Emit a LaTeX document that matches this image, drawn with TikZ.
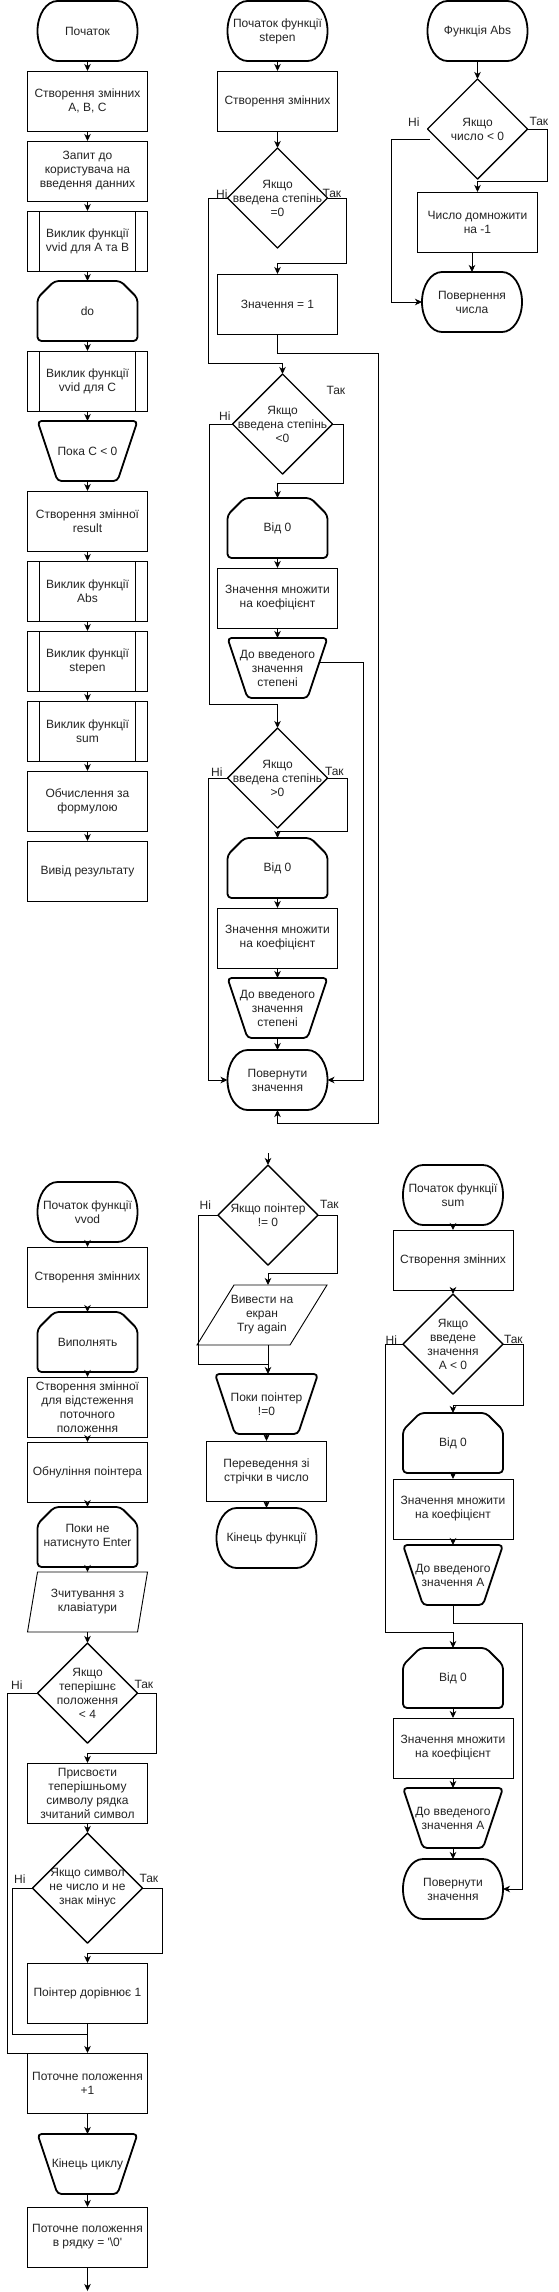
\documentclass[tikz,border=0pt]{standalone}
\usepackage{fontspec}
\setmainfont{Liberation Sans}
\usepackage{tikz}
\usetikzlibrary{positioning,arrows.meta,calc}
\definecolor{tekst}{RGB}{35,35,35}

\newcommand{\ramkaterm}[1]{%
  \draw[tovsta] ([xshift=20pt]#1.north west) -- ([xshift=-20pt]#1.north east)
    arc[start angle=90, end angle=-90, x radius=20pt, y radius=30pt]
    -- ([xshift=20pt]#1.south west)
    arc[start angle=270, end angle=90, x radius=20pt, y radius=30pt] -- cycle;}
\newcommand{\ramkapetl}[1]{%
  \draw[tovsta, rounded corners=4pt] ([yshift=-17pt]#1.north west) -- ([xshift=17pt]#1.north west)
    -- ([xshift=-17pt]#1.north east) -- ([yshift=-17pt]#1.north east)
    -- (#1.south east) -- (#1.south west) -- cycle;}
\newcommand{\ramkakin}[1]{%
  \draw[tovsta, rounded corners=4pt] (#1.north west) -- (#1.north east)
    -- ([xshift=-20pt]#1.south east) -- ([xshift=20pt]#1.south west) -- cycle;}
\newcommand{\ramkaromb}[1]{%
  \draw[romb] (#1.north) -- (#1.east) -- (#1.south) -- (#1.west) -- cycle;}
\newcommand{\ramkaparal}[2]{%
  \draw[tonka] ([xshift=#2]#1.north west) -- (#1.north east)
    -- ([xshift=-#2]#1.south east) -- (#1.south west) -- cycle;}

\begin{document}
\begin{tikzpicture}[x=1pt, y=1pt,
    font=\fontsize{12}{14}\selectfont, text=tekst,
    blok/.style={draw, line width=0.9pt, minimum width=120pt, minimum height=60pt,
                 inner sep=1pt, outer sep=0pt, align=center},
    pidpr/.style={blok, path picture={
        \draw[line width=0.9pt] ([xshift=12pt]path picture bounding box.north west) -- ([xshift=12pt]path picture bounding box.south west)
          ([xshift=-12pt]path picture bounding box.north east) -- ([xshift=-12pt]path picture bounding box.south east);}},
    termin/.style={minimum width=100pt, minimum height=60pt, inner sep=1pt, outer sep=0pt, align=center},
    petl/.style={termin},
    kinec/.style={termin},
    vvod/.style={termin, minimum width=120pt},
    umova/.style={minimum width=100pt, minimum height=100pt, inner sep=1pt, outer sep=0pt, align=center},
    mitka/.style={inner sep=0pt, outer sep=0pt},
    tovsta/.style={line width=1.8pt, line join=round},
    romb/.style={line width=1.4pt, line join=round},
    tonka/.style={line width=0.9pt},
    liniia/.style={line width=0.9pt},
    strilka/.style={liniia, -{Stealth[length=7pt, width=6.5pt, inset=2pt]}}]
  \useasboundingbox (0,0) rectangle (558,-2292);

  \node[termin] (pochatok) at (87.5,-31) {Початок};
  \node[blok, below=10pt of pochatok] (zminni) {Створення змінних\\A, B, C};
  \node[blok, below=10pt of zminni] (zapyt) {Запит до\\користувача на\\введення данних};
  \node[pidpr, below=10pt of zapyt] (vvidab) {Виклик функції\\vvid для A та B};
  \node[petl, below=10pt of vvidab] (docykl) {do};
  \node[pidpr, below=10pt of docykl] (vvidc) {Виклик функції\\vvid для C};
  \node[kinec, below=10pt of vvidc] (poka) {Пока C < 0};
  \node[blok, below=10pt of poka] (result) {Створення змінної\\result};
  \node[pidpr, below=10pt of result] (vabs) {Виклик функції\\Abs};
  \node[pidpr, below=10pt of vabs] (vstepen) {Виклик функції\\stepen};
  \node[pidpr, below=10pt of vstepen] (vsum) {Виклик функції\\sum};
  \node[blok, below=10pt of vsum] (obch) {Обчислення за\\формулою};
  \node[blok, below=10pt of obch] (vyvid) {Вивід результату};

  \node[termin] (spoch) at (277.5,-31) {Початок функції\\stepen};
  \node[blok, below=10pt of spoch] (szminni) {Створення змінних};
  \node[umova, below=17pt of szminni] (sum0) {Якщо\\введена степінь\\=0};
  \node[blok, below=26pt of sum0] (sodyn) {Значення = 1};
  \node[umova, below=40pt of sodyn, xshift=5pt] (smensh) {Якщо\\введена степінь\\<0};
  \node[petl, below=24pt of smensh, xshift=-5pt] (svid1) {Від 0};
  \node[blok, below=10pt of svid1] (smnozh1) {Значення множити\\на коефіцієнт};
  \node[kinec, below=10pt of smnozh1] (sdo1) {До введеного\\значення\\степені};
  \node[umova, below=30pt of sdo1] (sbilsh) {Якщо\\введена степінь\\>0};
  \node[petl, below=10pt of sbilsh] (svid2) {Від 0};
  \node[blok, below=10pt of svid2] (smnozh2) {Значення множити\\на коефіцієнт};
  \node[kinec, below=10pt of smnozh2] (sdo2) {До введеного\\значення\\степені};
  \node[termin, below=12pt of sdo2] (spov) {Повернути\\значення};

  \node[termin] (apoch) at (477.5,-31) {Функція Abs};
  \node[umova, below=18pt of apoch] (aumova) {Якщо\\число < 0};
  \node[blok, below=13pt of aumova] (adomn) {Число домножити\\на -1};
  \node[termin, below=20pt of adomn, xshift=-5.5pt] (apov) {Повернення\\числа};

  \node[termin] (vpoch) at (87.5,-1212) {Початок функції\\vvod};
  \node[blok, below=5pt of vpoch] (vzminni) {Створення змінних};
  \node[petl, below=5pt of vzminni] (vvyk) {Виполнять};
  \node[blok, below=5pt of vvyk] (vzminna) {Створення змінної\\для відстеження\\поточного\\положення};
  \node[blok, below=5pt of vzminna] (vobnul) {Обнуління поінтера};
  \node[petl, below=5pt of vobnul] (vpoky) {Поки не\\натиснуто Enter};
  \node[vvod, below=5pt of vpoky] (vzchyt) {Зчитування з\\клавіатури};
  \node[umova, below=11pt of vzchyt] (vteper) {Якщо\\теперішнє\\положення\\< 4};
  \node[blok, below=20pt of vteper] (vprysv) {Присвоєти\\теперішньому\\символу рядка\\зчитаний символ};
  \node[umova, minimum width=110pt, minimum height=110pt, below=10pt of vprysv] (vsymv) {Якщо символ\\не число и не\\знак мінус};
  \node[blok, below=20pt of vsymv] (vpointer) {Поінтер дорівнює 1};
  \node[blok, below=30pt of vpointer] (vpotoch) {Поточне положення\\+1};
  \node[kinec, below=21pt of vpotoch] (vkinec) {Кінець циклу};
  \node[blok, below=13pt of vkinec] (vryadok) {Поточне положення\\в рядку = \textquotesingle\textbackslash0\textquotesingle};
  \coordinate[below=24pt of vryadok] (vdali);

  \coordinate (pvhid) at (268,-1153);
  \node[umova, below=12pt of pvhid] (pumova) {Якщо поінтер\\!= 0};
  \node[vvod, minimum width=130pt, below=20pt of pumova, xshift=-6pt] (pvyvesty) {Вивести на\\екран\\Try again};
  \node[kinec, minimum width=103pt, below=29pt of pvyvesty, xshift=4.5pt] (ppoky) {Поки поінтер\\!=0};
  \node[blok, below=7pt of ppoky] (pperev) {Переведення зі\\стрічки в число};
  \node[termin, below=7pt of pperev] (pkin) {Кінець функції};

  \node[termin] (sumpoch) at (453,-1195) {Початок функції\\sum};
  \node[blok, below=5pt of sumpoch] (sumzminni) {Створення змінних};
  \node[umova, below=4pt of sumzminni] (sumumova) {Якщо\\введене\\значення\\A < 0};
  \node[petl, below=19pt of sumumova] (sumvid1) {Від 0};
  \node[blok, below=6pt of sumvid1] (summnozh1) {Значення множити\\на коефіцієнт};
  \node[kinec, below=6pt of summnozh1] (sumdo1) {До введеного\\значення A};
  \node[petl, below=43pt of sumdo1] (sumvid2) {Від 0};
  \node[blok, below=10pt of sumvid2] (summnozh2) {Значення множити\\на коефіцієнт};
  \node[kinec, below=10pt of summnozh2] (sumdo2) {До введеного\\значення A};
  \node[termin, below=11pt of sumdo2] (sumpov) {Повернути\\значення};

  \foreach \n in {pochatok, spoch, spov, apoch, apov, vpoch, pkin, sumpoch, sumpov} {\ramkaterm{\n}}
  \foreach \n in {docykl, svid1, svid2, vvyk, vpoky, sumvid1, sumvid2} {\ramkapetl{\n}}
  \foreach \n in {poka, sdo1, sdo2, vkinec, ppoky, sumdo1, sumdo2} {\ramkakin{\n}}
  \foreach \n in {sum0, smensh, sbilsh, aumova, vteper, vsymv, pumova, sumumova} {\ramkaromb{\n}}
  \foreach \n/\s in {vzchyt/10pt, pvyvesty/37pt} {\ramkaparal{\n}{\s}}

  \node[mitka, above left=0pt and 0pt of sum0.west] (sni0) {Ні};
  \node[mitka, above right=0pt and -5pt of sum0.east] (stak0) {Так};
  \node[mitka, above left=4pt and 2pt of smensh.west] (sni1) {Ні};
  \node[mitka, above right=29pt and -6pt of smensh.east] (stak1) {Так};
  \node[mitka, above left=2pt and 5pt of sbilsh.west] (sni2) {Ні};
  \node[mitka, above right=2pt and -2.5pt of sbilsh.east] (stak2) {Так};
  \node[mitka, above left=3pt and 8pt of aumova.west] (ani) {Ні};
  \node[mitka, above right=3pt and 2pt of aumova.east] (atak) {Так};
  \node[mitka, above left=4pt and 15pt of vteper.west] (vni1) {Ні};
  \node[mitka, above right=4pt and -3pt of vteper.east] (vtak1) {Так};
  \node[mitka, above left=5pt and 7pt of vsymv.west] (vni2) {Ні};
  \node[mitka, above right=5pt and -3pt of vsymv.east] (vtak2) {Так};
  \node[mitka, above left=6pt and 7pt of pumova.west] (pni) {Ні};
  \node[mitka, above right=6pt and 2pt of pumova.east] (ptak) {Так};
  \node[mitka, above left=0pt and 6pt of sumumova.west] (sumni) {Ні};
  \node[mitka, above right=0pt and 1pt of sumumova.east] (sumtak) {Так};

  \foreach \a/\b in {pochatok/zminni, zminni/zapyt, zapyt/vvidab, vvidab/docykl, docykl/vvidc,
      vvidc/poka, poka/result, result/vabs, vabs/vstepen, vstepen/vsum, vsum/obch, obch/vyvid,
      spoch/szminni, szminni/sum0, svid1/smnozh1, smnozh1/sdo1, svid2/smnozh2, smnozh2/sdo2, sdo2/spov,
      apoch/aumova,
      vpoch/vzminni, vzminni/vvyk, vvyk/vzminna, vzminna/vobnul, vobnul/vpoky, vpoky/vzchyt,
      vzchyt/vteper, vprysv/vsymv, vpointer/vpotoch, vpotoch/vkinec, vkinec/vryadok, vryadok/vdali,
      pvhid/pumova, ppoky/pperev, pperev/pkin,
      sumpoch/sumzminni, sumzminni/sumumova, sumvid1/summnozh1, summnozh1/sumdo1,
      sumvid2/summnozh2, summnozh2/sumdo2, sumdo2/sumpov}
    \draw[strilka] (\a) -- (\b);

  \draw[strilka] (sum0.east) -- ++(19pt,0) |- ([yshift=11pt]sodyn.north) -- (sodyn.north);
  \draw[strilka] (sum0.west) -- ++(-19pt,0) |- ([yshift=11pt]smensh.north) -- (smensh.north);
  \draw[strilka] (sodyn.south) -- ++(0,-19pt) -| ([xshift=51pt,yshift=-13pt]spov.south east) -| (spov.south);
  \draw[strilka] (smensh.east) -- ++(11pt,0) |- ([yshift=15pt]svid1.north) -- (svid1.north);
  \draw[strilka] (smensh.west) -- ++(-23pt,0) |- ([yshift=24pt]sbilsh.north) -- (sbilsh.north);
  \draw[strilka] ([xshift=-8pt,yshift=6pt]sdo1.east) -| ([xshift=36pt]spov.east) -- (spov.east);
  \draw[strilka] (sbilsh.east) -- ++(20pt,0) |- ([yshift=7pt]svid2.north) -- (svid2.north);
  \draw[strilka] (sbilsh.west) -- ++(-19pt,0) |- (spov.west);

  \draw[strilka] (aumova.east) -- ++(20pt,0) |- ([yshift=11pt]adomn.north) -- (adomn.north);
  \draw[strilka] (adomn.south -| apov.north) -- (apov.north);
  \draw[strilka] ([xshift=2pt,yshift=-10pt]aumova.west) -- ++(-38pt,0) |- (apov.west);

  \draw[strilka] (vteper.east) -- ++(19pt,0) |- ([yshift=10pt]vprysv.north) -- (vprysv.north);
  \draw[liniia] (vteper.west) -- ++(-30pt,0) |- (vpotoch.north west);
  \draw[strilka] (vsymv.east) -- ++(20pt,0) |- ([yshift=10pt]vpointer.north) -- (vpointer.north);
  \draw[liniia] (vsymv.west) -- ++(-20pt,0) |- ([yshift=-11pt]vpointer.south);

  \draw[strilka] (pumova.east) -- ++(19pt,0) |- ($(pvyvesty.north -| pumova.south)+(0,12pt)$) -- (pvyvesty.north -| pumova.south);
  \draw[strilka] (pvyvesty.south -| pumova.south) -- (ppoky.north -| pumova.south);
  \draw[liniia] (pumova.west) -- ++(-20pt,0) |- ($(ppoky.north -| pumova.south)+(0,10pt)$);

  \draw[strilka] (sumumova.east) -- ++(20pt,0) |- ([yshift=8pt]sumvid1.north) -- (sumvid1.north);
  \draw[strilka] (sumumova.west) -- ++(-18pt,0) |- ([yshift=16pt]sumvid2.north) -- (sumvid2.north);
  \draw[strilka] (sumdo1.south) -- ++(0,-18pt) -| ([xshift=19pt]sumpov.east) -- (sumpov.east);
\end{tikzpicture}
\end{document}
